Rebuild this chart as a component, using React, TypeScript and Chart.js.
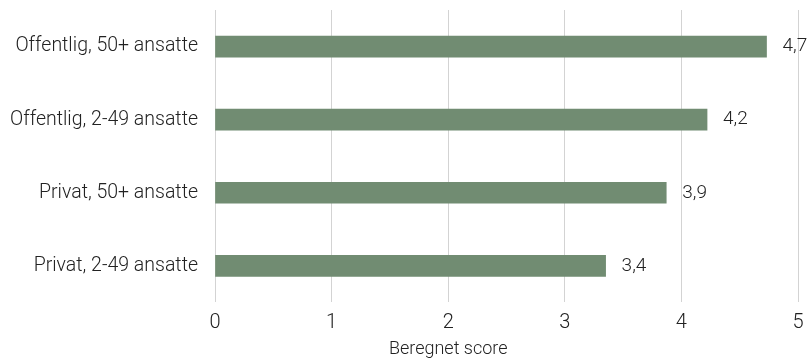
import React, { useEffect, useRef } from "react";
import { Chart, registerables } from "chart.js";

Chart.register(...registerables);

const categories = [
  "Offentlig, 50+ ansatte",
  "Offentlig, 2-49 ansatte",
  "Privat, 50+ ansatte",
  "Privat, 2-49 ansatte",
];
const scores = [4.73, 4.22, 3.87, 3.35];
const xTicks = [0, 1, 2, 3, 4, 5];
const axisTitle = "Beregnet score";

const FONT = "Roboto, 'DejaVu Sans', sans-serif";

const valueLabels = {
  id: "valueLabels",
  afterDatasetsDraw(chart: any) {
    const ctx = chart.ctx;
    const meta = chart.getDatasetMeta(0);
    ctx.save();
    ctx.fillStyle = "#222222";
    ctx.font = `300 19px ${FONT}`;
    ctx.textAlign = "left";
    ctx.textBaseline = "middle";
    meta.data.forEach((bar: any, i: number) => {
      const v = scores[i];
      const txt = v.toFixed(1).replace(".", ",");
      ctx.fillText(txt, bar.x + 16, bar.y);
    });
    ctx.restore();
  },
};

const axisTitlePlugin = {
  id: "axisTitlePlugin",
  afterDraw(chart: any) {
    const ctx = chart.ctx;
    const area = chart.chartArea;
    ctx.save();
    ctx.fillStyle = "#222222";
    ctx.font = `300 18px ${FONT}`;
    ctx.textAlign = "center";
    ctx.textBaseline = "middle";
    ctx.fillText(axisTitle, area.left + (area.right - area.left) * 0.4, chart.height - 11);
    ctx.restore();
  },
};

export default function App() {
  const ref = useRef<HTMLCanvasElement | null>(null);
  useEffect(() => {
    if (!ref.current) return;
    const chart = new Chart(ref.current, {
      type: "bar",
      data: {
        labels: categories,
        datasets: [
          {
            data: scores,
            backgroundColor: "#718c72",
            borderWidth: 0,
            barThickness: 21,
          },
        ],
      },
      options: {
        indexAxis: "y",
        animation: false,
        responsive: true,
        maintainAspectRatio: false,
        layout: { padding: { top: 10, right: 12, bottom: 0, left: 0 } },
        plugins: {
          legend: { display: false },
          tooltip: { enabled: false },
        },
        scales: {
          x: {
            min: 0,
            max: 5,
            afterBuildTicks: (axis: any) => {
              axis.ticks = xTicks.map((v) => ({ value: v }));
            },
            afterFit: (axis: any) => {
              axis.paddingLeft = 0;
              axis.paddingRight = 0;
            },
            grid: { color: "#d3d3d3", lineWidth: 1, drawTicks: false },
            border: { display: false },
            ticks: {
              color: "#222222",
              font: { family: FONT, size: 20, weight: 300 as any },
              padding: 9,
              maxRotation: 0,
            },
            title: {
              display: true,
              text: axisTitle,
              color: "rgba(0,0,0,0)",
              font: { family: FONT, size: 13, weight: 300 as any },
              padding: { top: 0, bottom: 0 },
            },
          },
          y: {
            afterFit: (axis: any) => {
              axis.width = 215;
              axis.paddingTop = 0;
              axis.paddingBottom = 0;
            },
            grid: { display: false, drawTicks: false },
            border: { display: false },
            ticks: {
              color: "#222222",
              font: { family: FONT, size: 19.5, weight: 300 as any },
              padding: 17,
            },
          },
        },
      },
      plugins: [valueLabels, axisTitlePlugin],
    });
    return () => chart.destroy();
  }, []);
  return (
    <div style={{ position: "fixed", left: 0, top: 0, width: 810, height: 360 }}>
      <canvas ref={ref} />
    </div>
  );
}
